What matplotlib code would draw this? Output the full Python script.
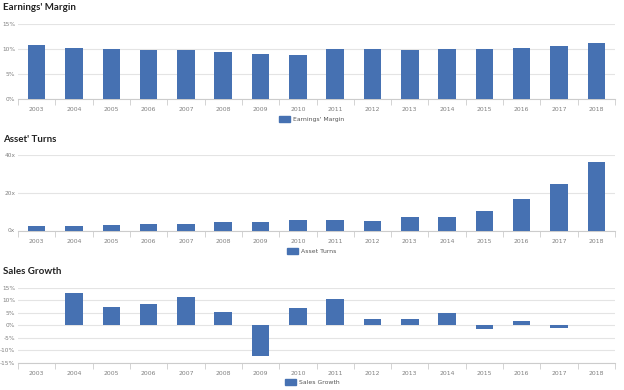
import matplotlib
matplotlib.use("Agg")
import matplotlib.pyplot as plt
import numpy as np
from matplotlib.patches import Patch
from matplotlib.ticker import FixedLocator

years = ["2003", "2004", "2005", "2006", "2007", "2008", "2009", "2010",
         "2011", "2012", "2013", "2014", "2015", "2016", "2017", "2018"]
earnings_margin = [10.8, 10.3, 10.05, 9.9, 9.85, 9.5, 9.05, 8.9,
                   10.05, 10.05, 9.75, 10.05, 10.05, 10.25, 10.6, 11.3]
asset_turns = [2.5, 2.5, 3.0, 3.6, 3.6, 4.3, 4.6, 5.4,
               5.7, 5.0, 7.3, 7.3, 10.4, 16.6, 24.6, 36.1]
sales_growth = [np.nan, 12.9, 7.3, 8.4, 11.3, 5.2, -12.2, 6.9,
                10.4, 2.4, 2.4, 4.9, -1.3, 1.7, -1.1, np.nan]

panels = [
    ("Earnings' Margin", "Earnings' Margin", earnings_margin, [0, 5, 10, 15], "%", (0, 15)),
    ("Asset' Turns", "Asset Turns", asset_turns, [0, 20, 40], "x", (0, 40)),
    ("Sales Growth", "Sales Growth", sales_growth, [-15, -10, -5, 0, 5, 10, 15], "%", (-15, 15)),
]

BAR = "#4671B2"
GRID = "#e4e4e4"
TXT = "#808080"

fig = plt.figure(figsize=(6.24, 3.9), dpi=100)
rects = [(18, 24, 99), (18, 155, 230.5), (18, 287.7, 363)]
title_y = [8, 139, 271]
legend_y = [119, 251, 382]

for (title, lab, vals, yt, suf, ylim), (lx, top, bot), ty, ly in zip(panels, rects, title_y, legend_y):
    ax = fig.add_axes([lx / 624, 1 - bot / 390, (615 - lx) / 624, (bot - top) / 390])
    x = np.arange(len(years))
    ax.bar(x, vals, width=0.47, color=BAR, zorder=3)
    ax.set_xlim(-0.5, len(years) - 0.5)
    ax.set_ylim(*ylim)
    ax.set_yticks(yt)
    ax.set_yticklabels([f"{v}{suf}" for v in yt])
    ax.set_xticks(x)
    ax.set_xticklabels(years)
    ax.xaxis.set_minor_locator(FixedLocator(np.arange(-0.5, len(years), 1.0)))
    ax.tick_params(axis="x", which="major", length=0, pad=6, labelsize=4.4, labelcolor=TXT)
    ax.tick_params(axis="x", which="minor", length=4, color="#cccccc", width=0.6)
    ax.tick_params(axis="y", length=0, pad=2, labelsize=4.2, labelcolor=TXT)
    ax.grid(axis="y", color=GRID, linewidth=0.8, zorder=0)
    for s in ["top", "right", "left"]:
        ax.spines[s].set_visible(False)
    ax.spines["bottom"].set_color("#cccccc")
    ax.spines["bottom"].set_linewidth(0.8)
    ax.set_facecolor("white")
    fig.text(3 / 624, 1 - ty / 390, title, fontsize=7, fontweight="bold",
             color="#222222", va="center", ha="left", family="Lato")
    ax.legend(handles=[Patch(color=BAR, label=lab)], loc="center",
              bbox_to_anchor=(0.5, 1 - ly / 390), bbox_transform=fig.transFigure,
              frameon=False, fontsize=4.4, handlelength=1.8, handleheight=1.0,
              handletextpad=0.5, labelcolor="#555555")

fig.savefig("out.png", dpi=100, facecolor="white")
